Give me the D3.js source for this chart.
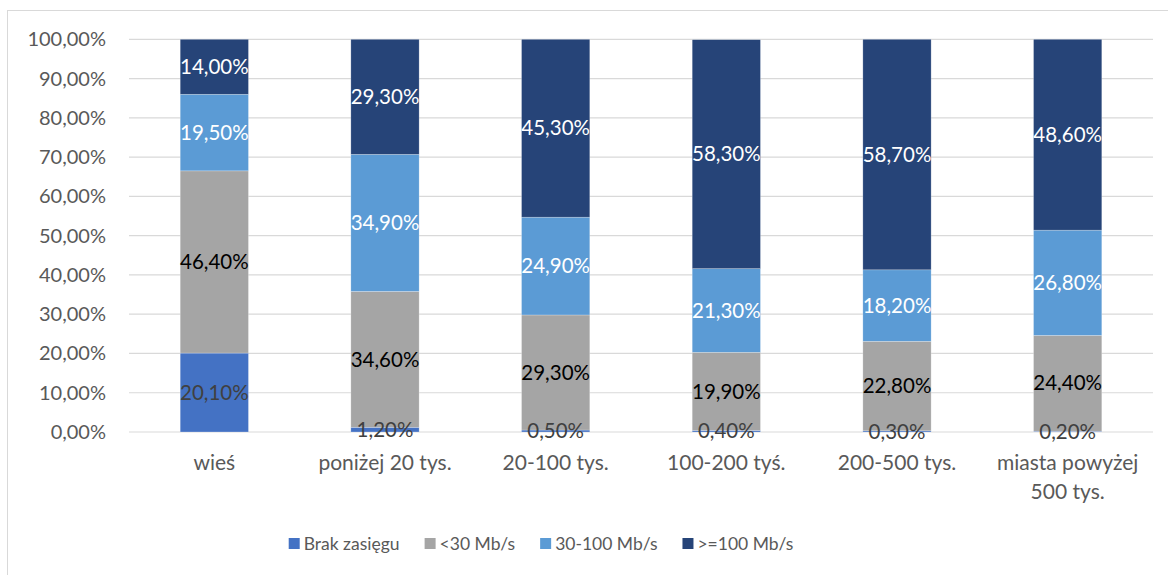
<!DOCTYPE html>
<html>
<head>
<meta charset="utf-8">
<script src="https://cdn.jsdelivr.net/npm/d3@7"></script>
<style>
  body { margin: 0; background: #fff; }
  svg { display: block; font-family: Lato, "Open Sans", sans-serif; }
</style>
</head>
<body>
<svg id="chart" width="1168" height="575"></svg>
<script>
const categories = ['wieś', 'poniżej 20 tys.', '20-100 tys.', '100-200 tyś.', '200-500 tys.', 'miasta powyżej 500 tys.'];
const seriesNames = ['Brak zasięgu', '<30 Mb/s', '30-100 Mb/s', '>=100 Mb/s'];
const brakZasiegu = [20.1, 1.2, 0.5, 0.4, 0.3, 0.2];
const below30 = [46.4, 34.6, 29.3, 19.9, 22.8, 24.4];
const from30to100 = [19.5, 34.9, 24.9, 21.3, 18.2, 26.8];
const above100 = [14.0, 29.3, 45.3, 58.3, 58.7, 48.6];
const yTicks = [0, 10, 20, 30, 40, 50, 60, 70, 80, 90, 100];

const colors = ['#4472C4', '#A5A5A5', '#5B9BD5', '#264478'];
const labelColors = ['#404040', '#000000', '#ffffff', '#ffffff'];

const svg = d3.select('#chart');
const fmt = v => v.toFixed(2).replace('.', ',') + '%';

// outer chart border
svg.append('rect')
  .attr('x', 7.5).attr('y', 10.5)
  .attr('width', 1200).attr('height', 600)
  .attr('fill', 'none')
  .attr('stroke', '#D9D9D9');

const rows = categories.map((c, i) => ({
  cat: c,
  [seriesNames[0]]: brakZasiegu[i],
  [seriesNames[1]]: below30[i],
  [seriesNames[2]]: from30to100[i],
  [seriesNames[3]]: above100[i]
}));

const x = d3.scaleBand()
  .domain(categories)
  .range([129, 1153])
  .paddingInner(0.6)
  .paddingOuter(0.3);

const y = d3.scaleLinear()
  .domain([0, 100])
  .range([432, 39.3]);

// gridlines
svg.append('g')
  .selectAll('line')
  .data(yTicks)
  .join('line')
  .attr('x1', 129).attr('x2', 1153)
  .attr('y1', d => y(d)).attr('y2', d => y(d))
  .attr('stroke', '#D9D9D9')
  .attr('stroke-width', 1.2);

// y tick labels
svg.append('g')
  .selectAll('text')
  .data(yTicks)
  .join('text')
  .attr('x', 106)
  .attr('y', d => y(d))
  .attr('dy', '0.35em')
  .attr('text-anchor', 'end')
  .attr('fill', '#595959')
  .style('font-size', '20px')
  .text(d => fmt(d));

const stack = d3.stack().keys(seriesNames);
const layers = stack(rows);

const layer = svg.append('g')
  .selectAll('g')
  .data(layers)
  .join('g')
  .attr('fill', (d, i) => colors[i]);

layer.selectAll('rect')
  .data(d => d)
  .join('rect')
  .attr('x', d => x(d.data.cat))
  .attr('width', x.bandwidth())
  .attr('y', d => y(d[1]))
  .attr('height', d => y(d[0]) - y(d[1]))
  .attr('stroke', '#fff')
  .attr('stroke-opacity', 0.4)
  .attr('stroke-width', 0.6);

// data labels
layers.forEach((l, i) => {
  svg.append('g')
    .selectAll('text')
    .data(l)
    .join('text')
    .attr('x', d => x(d.data.cat) + x.bandwidth() / 2)
    .attr('y', d => y((d[0] + d[1]) / 2))
    .attr('dy', '0.35em')
    .attr('text-anchor', 'middle')
    .attr('fill', labelColors[i])
    .style('font-size', '20.5px')
    .text(d => fmt(d[1] - d[0]));
});

// category labels, wrapped like the original
const wrapLines = c => c === 'miasta powyżej 500 tys.' ? ['miasta powyżej', '500 tys.'] : [c];
svg.append('g')
  .selectAll('text')
  .data(categories)
  .join('text')
  .attr('x', d => x(d) + x.bandwidth() / 2)
  .attr('y', 463)
  .attr('text-anchor', 'middle')
  .attr('fill', '#595959')
  .style('font-size', '21px')
  .each(function (d) {
    d3.select(this).selectAll('tspan')
      .data(wrapLines(d))
      .join('tspan')
      .attr('x', x(d) + x.bandwidth() / 2)
      .attr('dy', (t, j) => j === 0 ? '0.35em' : '29px')
      .text(t => t);
  });

// legend
const legend = svg.append('g');
const items = legend.selectAll('g')
  .data(seriesNames)
  .join('g');
items.append('rect')
  .attr('width', 11).attr('height', 11)
  .attr('y', 538)
  .attr('fill', (d, i) => colors[i]);
items.append('text')
  .attr('x', 15)
  .attr('y', 543.5)
  .attr('dy', '0.35em')
  .attr('fill', '#595959')
  .style('font-size', '17.5px')
  .text(d => d);

let offset = 0;
const widths = [];
items.each(function () {
  const w = 15 + d3.select(this).select('text').node().getComputedTextLength();
  widths.push(w);
});
const gap = 25;
const total = d3.sum(widths) + gap * (widths.length - 1);
let start = 541 - total / 2;
items.attr('transform', (d, i) => {
  const t = `translate(${start + offset}, 0)`;
  offset += widths[i] + gap;
  return t;
});
</script>
</body>
</html>
